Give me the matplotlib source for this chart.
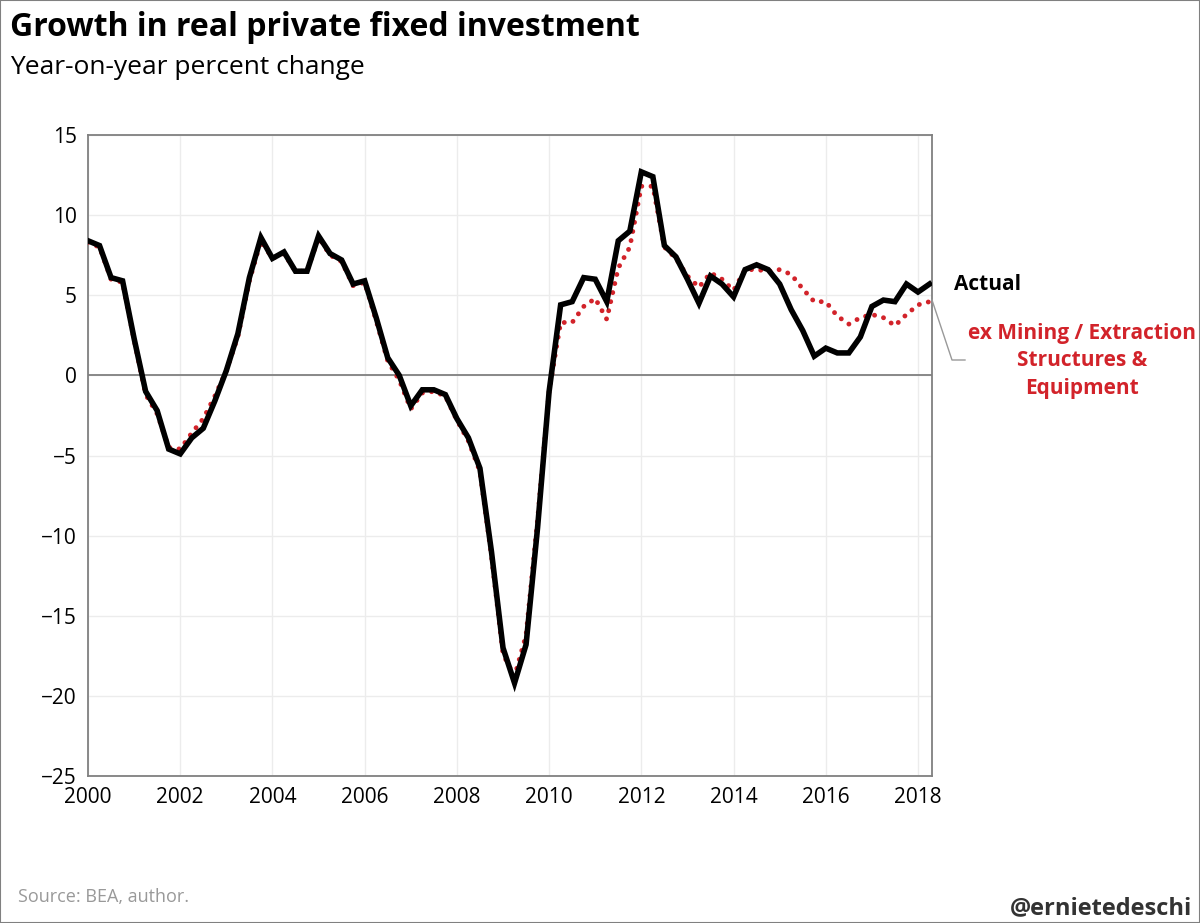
import matplotlib
matplotlib.use("Agg")
import matplotlib.pyplot as plt
import numpy as np

plt.rcParams['font.family'] = ['Open Sans', 'DejaVu Sans']

actual = [8.4, 8.1, 6.1, 5.9, 2.3, -1.0, -2.2, -4.6, -4.9, -3.9, -3.3, -1.6,
          0.3, 2.6, 6.1, 8.6, 7.3, 7.7, 6.5, 6.5, 8.7, 7.6, 7.2, 5.7,
          5.9, 3.6, 1.1, 0.0, -1.9, -0.9, -0.9, -1.2, -2.7, -3.9, -5.8, -11.0,
          -17.0, -19.2, -16.8, -9.5, -1.0, 4.4, 4.6, 6.1, 6.0, 4.6, 8.4, 9.0,
          12.7, 12.4, 8.1, 7.4, 6.0, 4.5, 6.2, 5.7, 4.9, 6.6, 6.9, 6.6,
          5.7, 4.1, 2.8, 1.2, 1.7, 1.4, 1.4, 2.4, 4.3, 4.7, 4.6, 5.7, 5.2, 5.7]
ex_mining = [8.3, 8.0, 6.0, 5.8, 2.2, -1.2, -2.4, -4.5, -4.6, -3.6, -2.7, -1.3,
             0.3, 2.4, 5.9, 8.4, 7.3, 7.6, 6.5, 6.5, 8.6, 7.5, 7.1, 5.6,
             5.8, 3.4, 0.9, -0.3, -2.1, -1.1, -1.0, -1.3, -2.8, -4.1, -6.0, -11.3,
             -17.4, -18.8, -16.2, -9.0, -1.0, 3.3, 3.3, 4.3, 4.8, 3.5, 6.7, 8.0,
             11.8, 11.8, 8.0, 7.3, 6.2, 5.5, 6.4, 6.0, 5.3, 6.6, 6.6, 6.5,
             6.6, 6.3, 5.4, 4.6, 4.6, 3.7, 3.2, 3.6, 3.8, 3.6, 3.1, 3.8, 4.4, 4.6]
x = 2000 + np.arange(len(actual)) / 4.0
years = list(range(2000, 2019, 2))
yticks = list(range(-25, 16, 5))

fig = plt.figure(figsize=(12, 9.23), dpi=100)
ax = fig.add_axes([88/1200, 1-776/923, (932-88)/1200, (776-135)/923])
ax.plot(x, ex_mining, color='#d2232a', lw=3.5, linestyle=(0, (0.01, 1.9)),
        dash_capstyle='round', zorder=3)
ax.plot(x, actual, color='black', lw=4, zorder=4, solid_joinstyle='miter')
ax.axhline(0, color='#808080', lw=1.3, zorder=2)
ax.set_xlim(2000, 2000 + (932-88)/(918-88)*18)
ax.set_ylim(-25, 15)
ax.set_xticks(years)
ax.set_yticks(yticks)
ax.grid(True, color='#ececec', lw=1)
ax.set_axisbelow(True)
for s in ax.spines.values():
    s.set_color('#808080'); s.set_linewidth(1.3)
ax.tick_params(length=0, labelsize=15, pad=8)

fig.text(10/1200, 1-28/923, 'Growth in real private fixed investment', fontsize=23,
         fontweight='bold', va='center')
fig.text(10/1200, 1-68/923, 'Year-on-year percent change', fontsize=19, va='center')
fig.text(18/1200, 1-897/923, 'Source: BEA, author.', fontsize=13, color='#999999', va='center')
fig.text(1192/1200, 1-908/923, '@ernietedeschi', fontsize=17, fontweight='bold',
         ha='right', va='center', color='#333333')
fig.text(987/1200, 1-285/923, 'Actual', fontsize=15, fontweight='bold', ha='center', va='center')
fig.text(1082/1200, 1-361/923, 'ex Mining / Extraction\nStructures &\nEquipment', fontsize=15,
         fontweight='bold', color='#d2232a', ha='center', va='center', linespacing=1.4)
fig.add_artist(plt.Line2D([932/1200, 952/1200, 965/1200],
                          [1-300/923, 1-360/923, 1-360/923], color='#999999', lw=1))
fig.add_artist(plt.Rectangle((0, 0), 1, 1, fill=False, ec='#808080', lw=1.5,
                             transform=fig.transFigure))
fig.savefig('out.png', dpi=100)
